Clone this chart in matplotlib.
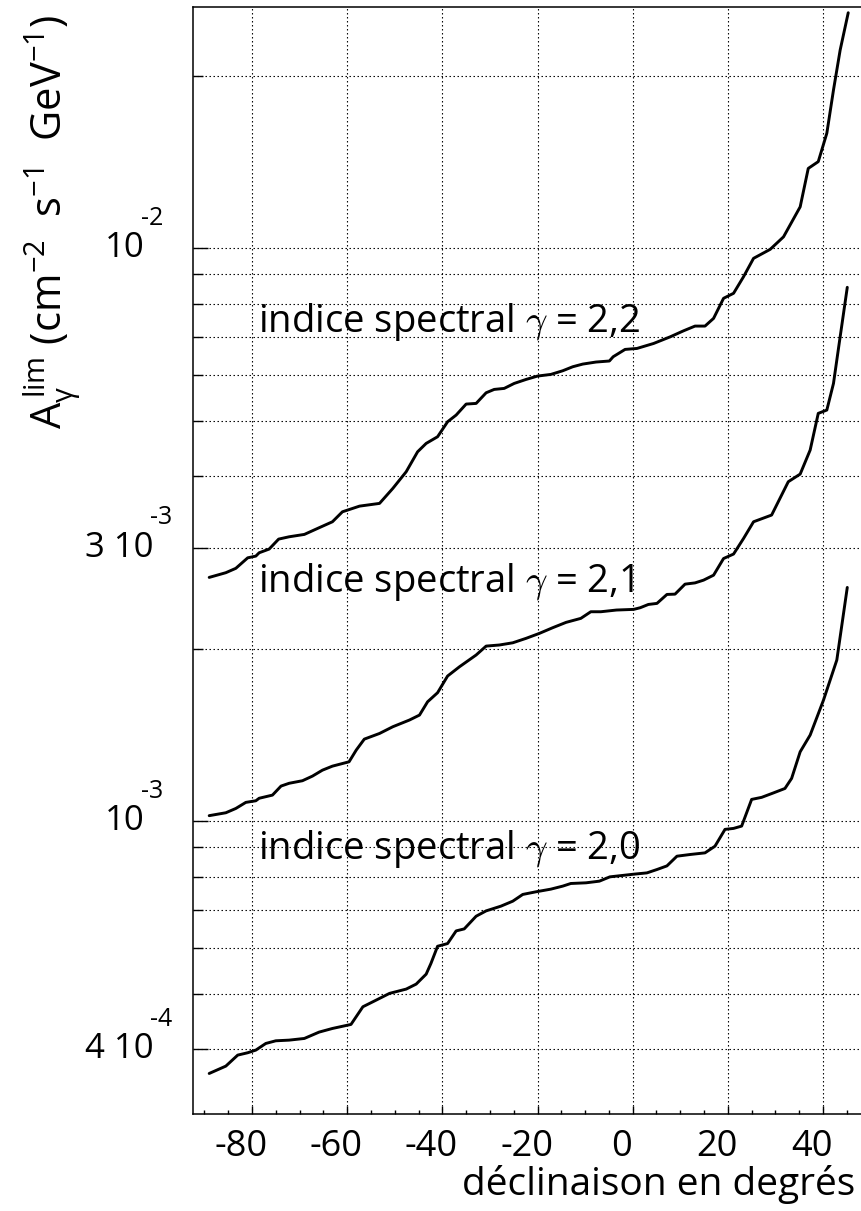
import matplotlib
matplotlib.use("Agg")
import matplotlib.pyplot as plt
from matplotlib.transforms import ScaledTranslation
import numpy as np

plt.rcParams['font.family'] = ['Open Sans', 'DejaVu Sans']
plt.rcParams['mathtext.fontset'] = 'custom'
plt.rcParams['mathtext.rm'] = 'Open Sans'
plt.rcParams['mathtext.it'] = 'Open Sans'
plt.rcParams['mathtext.default'] = 'rm'

# courbes : declinaison (deg) et A_gamma^lim
dec_22 = [-89.0, -85.5, -83.4, -80.9, -79.2, -78.5, -76.4, -74.4, -72.2, -69.0, -65.9, -63.1, -61.0,
          -57.4, -53.2, -50.4, -47.6, -45.2, -43.4, -41.0, -38.9, -37.1, -35.0, -32.9, -30.8, -29.1,
          -27.0, -24.9, -22.4, -20.0, -17.2, -14.7, -12.6, -10.5, -7.7, -4.9, -4.1, -1.6, 0.9, 4.4,
          7.9, 10.7, 13.1, 15.2, 17.0, 19.1, 21.2, 23.3, 25.4, 28.9, 31.7, 35.2, 36.9, 39.0, 40.8,
          42.2, 43.6, 45.3]
val_22 = [2.662e-3, 2.713e-3, 2.761e-3, 2.880e-3, 2.900e-3, 2.939e-3, 2.983e-3, 3.105e-3, 3.134e-3,
          3.164e-3, 3.250e-3, 3.329e-3, 3.465e-3, 3.545e-3, 3.584e-3, 3.807e-3, 4.070e-3, 4.410e-3,
          4.561e-3, 4.685e-3, 4.975e-3, 5.111e-3, 5.342e-3, 5.356e-3, 5.590e-3, 5.666e-3, 5.689e-3,
          5.804e-3, 5.898e-3, 5.978e-3, 6.018e-3, 6.107e-3, 6.206e-3, 6.273e-3, 6.325e-3, 6.351e-3,
          6.461e-3, 6.654e-3, 6.680e-3, 6.815e-3, 7.000e-3, 7.171e-3, 7.308e-3, 7.308e-3, 7.538e-3,
          8.171e-3, 8.337e-3, 8.912e-3, 9.594e-3, 9.948e-3, 1.046e-2, 1.180e-2, 1.377e-2, 1.415e-2,
          1.586e-2, 1.887e-2, 2.215e-2, 2.574e-2]

dec_21 = [-89.0, -85.5, -83.4, -81.3, -79.2, -78.5, -75.7, -73.9, -72.2, -69.4, -67.3, -65.2, -63.1,
          -59.6, -58.1, -56.4, -53.2, -50.4, -46.9, -44.8, -43.1, -41.0, -38.9, -36.4, -32.9, -30.8,
          -28.0, -25.2, -22.4, -19.6, -16.8, -14.0, -10.9, -8.8, -6.7, -3.4, 0.2, 1.6, 3.3, 5.1, 7.2,
          8.9, 11.0, 13.1, 14.9, 17.0, 19.1, 21.2, 23.3, 25.4, 29.2, 32.7, 35.2, 37.3, 39.0, 40.8,
          42.2, 43.2, 45.1]
val_21 = [1.022e-3, 1.034e-3, 1.052e-3, 1.078e-3, 1.085e-3, 1.096e-3, 1.110e-3, 1.151e-3, 1.164e-3,
          1.176e-3, 1.198e-3, 1.227e-3, 1.247e-3, 1.269e-3, 1.330e-3, 1.390e-3, 1.422e-3, 1.461e-3,
          1.501e-3, 1.531e-3, 1.615e-3, 1.675e-3, 1.791e-3, 1.859e-3, 1.949e-3, 2.020e-3, 2.029e-3,
          2.047e-3, 2.084e-3, 2.126e-3, 2.175e-3, 2.222e-3, 2.258e-3, 2.319e-3, 2.319e-3, 2.335e-3,
          2.341e-3, 2.357e-3, 2.388e-3, 2.398e-3, 2.486e-3, 2.489e-3, 2.591e-3, 2.604e-3, 2.633e-3,
          2.686e-3, 2.872e-3, 2.924e-3, 3.113e-3, 3.329e-3, 3.420e-3, 3.910e-3, 4.032e-3, 4.441e-3,
          5.146e-3, 5.215e-3, 5.804e-3, 6.637e-3, 8.540e-3]

dec_20 = [-89.0, -85.5, -83.0, -80.9, -79.2, -77.1, -75.0, -72.2, -69.0, -65.9, -63.1, -59.2, -56.7,
          -54.3, -51.1, -47.6, -45.5, -43.4, -42.4, -41.0, -38.9, -37.1, -35.4, -32.9, -30.8, -27.7,
          -25.2, -23.1, -20.3, -17.2, -14.7, -13.0, -9.8, -7.0, -4.8, 0.2, 3.0, 5.1, 7.2, 9.3, 12.1,
          15.2, 17.3, 19.4, 21.2, 22.9, 25.0, 27.1, 29.6, 32.0, 33.4, 35.2, 37.3, 40.1, 42.9, 45.1]
val_20 = [3.627e-4, 3.736e-4, 3.905e-4, 3.942e-4, 3.984e-4, 4.092e-4, 4.136e-4, 4.147e-4, 4.175e-4,
          4.283e-4, 4.346e-4, 4.417e-4, 4.742e-4, 4.852e-4, 5.004e-4, 5.091e-4, 5.194e-4, 5.406e-4,
          5.643e-4, 6.047e-4, 6.113e-4, 6.432e-4, 6.484e-4, 6.823e-4, 6.971e-4, 7.104e-4, 7.248e-4,
          7.447e-4, 7.527e-4, 7.607e-4, 7.700e-4, 7.782e-4, 7.803e-4, 7.855e-4, 7.992e-4, 8.078e-4,
          8.121e-4, 8.231e-4, 8.352e-4, 8.684e-4, 8.744e-4, 8.801e-4, 9.041e-4, 9.672e-4, 9.710e-4,
          9.801e-4, 1.091e-3, 1.100e-3, 1.120e-3, 1.140e-3, 1.187e-3, 1.321e-3, 1.413e-3, 1.626e-3,
          1.910e-3, 2.557e-3]

curves = [(dec_22, val_22, "2,2", 7.13e-3), (dec_21, val_21, "2,1", 2.51e-3), (dec_20, val_20, "2,0", 8.58e-4)]

y_major = [4e-4, 1e-3, 3e-3, 1e-2]
y_labels = [("4 10", "-4"), ("10", "-3"), ("3 10", "-3"), ("10", "-2")]
y_minor = [5e-4, 6e-4, 7e-4, 8e-4, 9e-4, 2e-3, 4e-3, 5e-3, 6e-3, 7e-3, 8e-3, 9e-3, 2e-2]
x_major = [-80, -60, -40, -20, 0, 20, 40]

fig = plt.figure(figsize=(8.62, 12.11), dpi=100)
ax = fig.add_axes([193 / 862, 1 - 1114 / 1211, (870.6 - 193) / 862, 1107 / 1211])

for d, v, lab, ypos in curves:
    ax.plot(d, v, color='black', lw=2.1, solid_capstyle='round', solid_joinstyle='round')
    ax.text(-78.7, ypos, r"indice spectral $\gamma$ = " + lab, fontsize=27.5,
            va='baseline', ha='left', math_fontfamily='cm')

ax.set_yscale('log')
ax.set_xlim(-92.4, 50)
ax.set_ylim(3.082e-4, 2.634e-2)

ax.set_xticks(x_major)
ax.set_xticklabels([str(x) for x in x_major], fontsize=26)
ax.set_xticks(np.arange(-90, 50, 5), minor=True)
ax.set_yticks(y_major)
ax.set_yticklabels([''] * len(y_major))
ax.set_yticks(y_minor, minor=True)
ax.yaxis.set_minor_formatter(matplotlib.ticker.NullFormatter())

ax.tick_params(axis='x', which='major', direction='in', length=6, width=1, pad=11)
ax.tick_params(axis='x', which='minor', direction='in', length=2.6, width=1)
ax.tick_params(axis='y', which='major', direction='in', length=11, width=1)
ax.tick_params(axis='y', which='minor', direction='in', length=7, width=1)
shift = ScaledTranslation(-11 / 100, 0, fig.dpi_scale_trans)
for t in ax.get_xticklabels():
    t.set_transform(t.get_transform() + shift)

ax.xaxis.grid(True, which='major', color='black', lw=0.8, linestyle=(0, (1.3, 2.3)))
ax.yaxis.grid(True, which='both', color='black', lw=0.8, linestyle=(0, (1.3, 2.3)))
ax.spines['right'].set_visible(False)
for s in ['left', 'bottom', 'top']:
    ax.spines[s].set_linewidth(1.1)

# etiquettes de l'axe y facon ROOT (exposant bien au-dessus)
tr = ax.get_yaxis_transform()
for yv, (base, expo) in zip(y_major, y_labels):
    dx = 9 if len(base) > 2 else 0
    ax.annotate(base, (0, yv), xycoords=tr, xytext=(-48 + dx, 0), textcoords='offset pixels',
                ha='right', va='center', fontsize=25)
    ax.annotate(expo, (0, yv), xycoords=tr, xytext=(-52 + dx, 30), textcoords='offset pixels',
                ha='left', va='center', fontsize=18)

fig.text(855 / 862, 1 - 1195 / 1211, "déclinaison en degrés", ha='right', va='baseline', fontsize=28)
fig.text(52 / 862, 1 - 15 / 1211,
         r"A$_{\gamma}^{\,\mathrm{lim}}$ (cm$^{-2}$  s$^{-1}$  GeV$^{-1}$)",
         rotation=90, ha='center', va='top', fontsize=30)

fig.savefig("out.png", dpi=100)
